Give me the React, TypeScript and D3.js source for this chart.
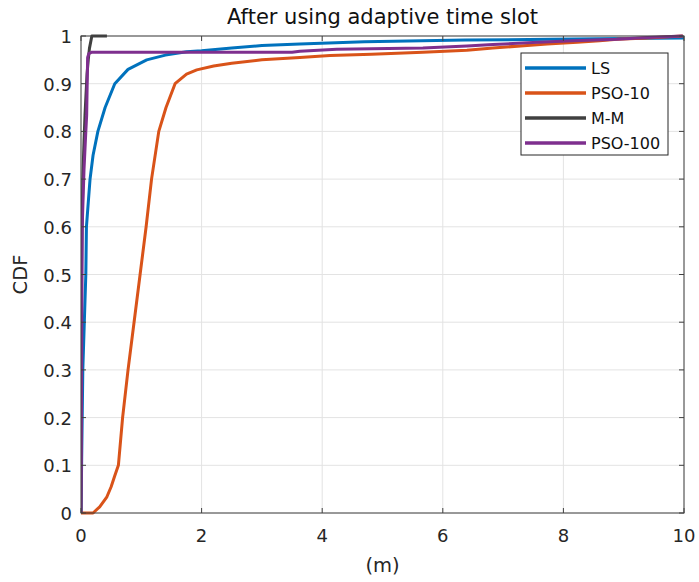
import React from "react";
import * as d3 from "d3";

// Empirical CDF samples of localisation error (m) per method
const lsX = [0, 0.01, 0.03, 0.055, 0.08, 0.09, 0.12, 0.15, 0.2, 0.28, 0.4, 0.56, 0.78, 1.09, 1.4, 1.75, 2.0, 2.5, 3.0, 3.63, 4.7, 6.37, 7.78, 9.0, 10];
const lsY = [0, 0.1, 0.3, 0.4, 0.5, 0.6, 0.65, 0.7, 0.75, 0.8, 0.85, 0.9, 0.93, 0.95, 0.96, 0.967, 0.969, 0.975, 0.98, 0.983, 0.988, 0.9916, 0.993, 0.995, 0.996];

const pso10X = [0, 0.2, 0.31, 0.43, 0.5, 0.56, 0.62, 0.69, 0.78, 0.88, 0.98, 1.08, 1.17, 1.29, 1.41, 1.56, 1.75, 1.92, 2.2, 2.5, 3.0, 3.63, 4.13, 4.82, 5.67, 6.4, 6.83, 7.4, 7.73, 8.23, 8.6, 8.89, 9.39, 9.98];
const pso10Y = [0, 0, 0.013, 0.034, 0.055, 0.078, 0.1, 0.2, 0.3, 0.4, 0.5, 0.6, 0.7, 0.8, 0.85, 0.9, 0.92, 0.929, 0.937, 0.943, 0.95, 0.955, 0.959, 0.962, 0.966, 0.97, 0.975, 0.98, 0.983, 0.987, 0.99, 0.993, 0.996, 1.0];

const mmX = [0, 0.005, 0.01, 0.03, 0.05, 0.066, 0.1, 0.12, 0.14, 0.18, 0.43];
const mmY = [0, 0.3, 0.52, 0.7, 0.78, 0.834, 0.92, 0.95, 0.974, 1.0, 1.0];

const pso100X = [0, 0.005, 0.01, 0.02, 0.05, 0.08, 0.094, 0.11, 0.13, 0.18, 3.5, 3.63, 4.24, 5.67, 6.4, 6.83, 7.4, 8.16, 8.89, 9.39, 9.98];
const pso100Y = [0, 0.1, 0.3, 0.6, 0.72, 0.8, 0.834, 0.955, 0.963, 0.966, 0.966, 0.968, 0.972, 0.975, 0.979, 0.982, 0.986, 0.99, 0.993, 0.997, 1.0];

const seriesNames = ["LS", "PSO-10", "M-M", "PSO-100"];
const seriesColors = ["#0072BD", "#D95319", "#404040", "#7E2F8E"];

const xTicks = [0, 2, 4, 6, 8, 10];
const yTicks = [0, 0.1, 0.2, 0.3, 0.4, 0.5, 0.6, 0.7, 0.8, 0.9, 1];

const titleText = "After using adaptive time slot";
const xLabel = "(m)";
const yLabel = "CDF";

const W = 699;
const H = 582;
const FONT = "'DejaVu Sans', sans-serif";

export default function App() {
  const left = 81;
  const right = 684;
  const top = 36;
  const bottom = 513;

  const x = d3.scaleLinear().domain([0, 10]).range([left, right]);
  const y = d3.scaleLinear().domain([0, 1]).range([bottom, top]);

  const line = d3
    .line<[number, number]>()
    .x((d) => x(d[0]))
    .y((d) => y(d[1]));

  const series = [
    { xs: lsX, ys: lsY },
    { xs: pso10X, ys: pso10Y },
    { xs: mmX, ys: mmY },
    { xs: pso100X, ys: pso100Y },
  ].map((s, i) => ({
    name: seriesNames[i],
    color: seriesColors[i],
    pts: s.xs.map((v, j) => [v, s.ys[j]] as [number, number]),
  }));

  const axisColor = "#404040";
  const gridColor = "#e3e3e3";
  const tickLen = 5;

  const legX = 521;
  const legY = 53;
  const legW = 147;
  const legRow = 25;
  const legH = 102;

  return (
    <svg
      width={W}
      height={H}
      style={{ position: "absolute", left: 0, top: 0, background: "#fff" }}
      fontFamily={FONT}
    >
      <rect x={0} y={0} width={W} height={H} fill="#fff" />
      {/* grid */}
      {xTicks.map((t) => (
        <line key={"gx" + t} x1={x(t)} x2={x(t)} y1={top} y2={bottom} stroke={gridColor} strokeWidth={1} />
      ))}
      {yTicks.map((t) => (
        <line key={"gy" + t} x1={left} x2={right} y1={y(t)} y2={y(t)} stroke={gridColor} strokeWidth={1} />
      ))}

      {/* data */}
      <defs>
        <clipPath id="plotClip">
          <rect x={left} y={top - 2} width={right - left + 2} height={bottom - top + 4} />
        </clipPath>
      </defs>
      <g clipPath="url(#plotClip)">
        {series.map((s) => (
          <path
            key={s.name}
            d={line(s.pts) || ""}
            fill="none"
            stroke={s.color}
            strokeWidth={3}
            strokeLinejoin="round"
          />
        ))}
      </g>

      {/* axes box */}
      <rect x={left} y={top} width={right - left} height={bottom - top} fill="none" stroke={axisColor} strokeWidth={1} />
      {xTicks.map((t) => (
        <g key={"tx" + t}>
          <line x1={x(t)} x2={x(t)} y1={bottom} y2={bottom - tickLen} stroke={axisColor} />
          <line x1={x(t)} x2={x(t)} y1={top} y2={top + tickLen} stroke={axisColor} />
          <text x={x(t)} y={542} fontSize={18} textAnchor="middle" fill="#262626">
            {t}
          </text>
        </g>
      ))}
      {yTicks.map((t) => (
        <g key={"ty" + t}>
          <line x1={left} x2={left + tickLen} y1={y(t)} y2={y(t)} stroke={axisColor} />
          <line x1={right} x2={right - tickLen} y1={y(t)} y2={y(t)} stroke={axisColor} />
          <text x={72} y={y(t) + 7} fontSize={18} textAnchor="end" fill="#262626">
            {d3.format("")(t)}
          </text>
        </g>
      ))}

      {/* labels */}
      <text x={(left + right) / 2} y={24} fontSize={21} textAnchor="middle" fill="#111">
        {titleText}
      </text>
      <text x={(left + right) / 2} y={572} fontSize={19.5} textAnchor="middle" fill="#262626">
        {xLabel}
      </text>
      <text
        transform={`translate(${27},${(top + bottom) / 2}) rotate(-90)`}
        fontSize={19.5}
        textAnchor="middle"
        fill="#262626"
      >
        {yLabel}
      </text>

      {/* legend */}
      <rect x={legX} y={legY} width={legW} height={legH} fill="#fff" stroke="#262626" strokeWidth={1} />
      {series.map((s, i) => (
        <g key={"lg" + s.name}>
          <line
            x1={legX + 4}
            x2={legX + 65}
            y1={legY + 15 + i * legRow}
            y2={legY + 15 + i * legRow}
            stroke={s.color}
            strokeWidth={3.5}
          />
          <text x={legX + 70} y={legY + 15 + i * legRow + 6} fontSize={16} fill="#111">
            {s.name}
          </text>
        </g>
      ))}
    </svg>
  );
}
